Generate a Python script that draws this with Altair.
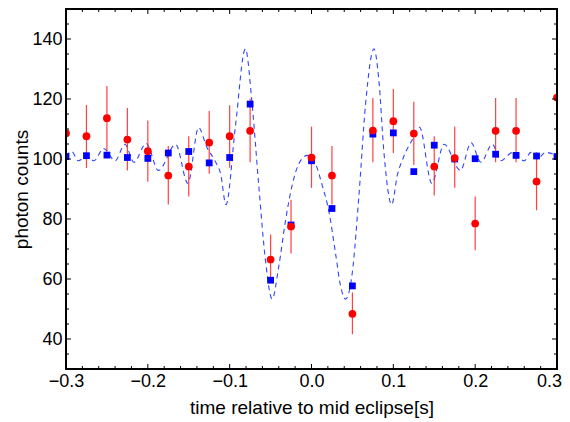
import altair as alt
import pandas as pd

# ---- data ----
t = [-0.3, -0.275, -0.25, -0.225, -0.2, -0.175, -0.15, -0.125, -0.1, -0.075, -0.05, -0.025,
     0.0, 0.025, 0.05, 0.075, 0.1, 0.125, 0.15, 0.175, 0.2, 0.225, 0.25, 0.275, 0.3]
red = [108.6, 107.6, 113.6, 106.5, 102.6, 94.5, 97.5, 105.5, 107.6, 109.4, 66.5, 77.5,
       100.5, 94.5, 48.4, 109.5, 112.6, 108.5, 97.5, 100.3, 78.5, 109.4, 109.4, 92.5, 120.5]
red_lo = [98.6, 97.0, 102.7, 96.2, 92.4, 84.8, 87.5, 95.1, 97.1, 98.9, 58.7, 68.5,
          90.4, 84.8, 41.6, 98.9, 102.0, 98.0, 87.8, 90.4, 69.6, 98.9, 98.9, 82.9, 109.5]
red_hi = [118.6, 118.0, 124.3, 117.0, 112.8, 104.3, 107.6, 116.0, 117.9, 120.1, 74.8, 86.4,
          110.8, 104.3, 55.5, 120.3, 123.3, 119.1, 107.6, 110.8, 87.5, 120.3, 120.3, 102.2, 131.5]
blue = [100.8, 101.1, 101.3, 100.5, 100.2, 102.0, 102.5, 98.7, 100.5, 118.3, 59.6, 78.0,
        99.4, 83.5, 57.7, 108.3, 108.7, 95.8, 104.6, 100.0, 100.1, 101.6, 101.2, 101.0, 100.8]

curve_t = [-0.300, -0.293, -0.285, -0.275, -0.266, -0.254, -0.240, -0.228, -0.217, -0.202,
           -0.187, -0.166, -0.151, -0.138, -0.128, -0.118, -0.111, -0.1045, -0.093, -0.0808,
           -0.0726, -0.0645, -0.0563, -0.0481, -0.040, -0.0318, -0.0236, -0.0155, -0.005,
           0.0049, 0.013, 0.0212, 0.0294, 0.0355, 0.0416, 0.0498, 0.058, 0.0661, 0.0763,
           0.0824, 0.0885, 0.098, 0.1049, 0.113, 0.1233, 0.132, 0.147, 0.162, 0.182, 0.195,
           0.207, 0.221, 0.231, 0.246, 0.260, 0.268, 0.276, 0.286, 0.300]
curve_v = [100.8, 102.5, 99.4, 101.0, 99.4, 103.5, 99.4, 104.9, 98.9, 105.2,
           96.2, 104.9, 91.9, 110.5, 104.0, 99.4, 95.0, 84.8, 110.8, 136.7,
           118.4, 91.3, 66.3, 53.3, 64.2, 79.4, 91.3, 98.4, 101.2,
           98.4, 91.3, 82.6, 68.5, 57.7, 53.3, 62.0, 88.0, 118.4, 136.7,
           126.0, 102.2, 84.8, 94.6, 101.0, 106.5, 110.6, 91.9, 104.9, 96.2, 105.4,
           98.9, 104.9, 99.4, 102.2, 99.4, 102.2, 100.0, 102.2, 101.0]

x_major = [-0.3, -0.2, -0.1, 0.0, 0.1, 0.2, 0.3]
x_minor = [-0.28, -0.26, -0.24, -0.22, -0.18, -0.16, -0.14, -0.12, -0.08, -0.06, -0.04, -0.02,
           0.02, 0.04, 0.06, 0.08, 0.12, 0.14, 0.16, 0.18, 0.22, 0.24, 0.26, 0.28]
y_major = [40, 60, 80, 100, 120, 140]
y_minor = [35, 45, 50, 55, 65, 70, 75, 85, 90, 95, 105, 110, 115, 125, 130, 135, 145]

# ---- layout ----
W, H = 491, 360
FONT = "Liberation Sans"

xscale = alt.Scale(domain=[-0.3, 0.3], nice=False, zero=False)
yscale = alt.Scale(domain=[30, 150], nice=False, zero=False)

xaxis = alt.Axis(values=x_major, format=".1f", ticks=False, domain=False, grid=False,
                 labelFontSize=18, labelFont=FONT, labelColor="black", labelPadding=3,
                 labelFlush=False, labelOverlap=False,
                 labelOffset=alt.condition("datum.value > 0.29", alt.value(-8), alt.value(0)),
                 titleFontSize=19, titleFont=FONT, titleFontWeight="normal",
                 titleColor="black", titlePadding=8)
yaxis = alt.Axis(values=y_major, format="d", ticks=False, domain=False, grid=False,
                 labelFontSize=18, labelFont=FONT, labelColor="black", labelPadding=4,
                 labelFlush=False, labelOverlap=False,
                 titleFontSize=19, titleFont=FONT, titleFontWeight="normal",
                 titleColor="black", titlePadding=0)

XT = "time relative to mid eclipse[s]"
YT = "photon counts"


def X(f="x"):
    return alt.X(f"{f}:Q", scale=xscale, axis=xaxis, title=XT)


def Y(f="y"):
    return alt.Y(f"{f}:Q", scale=yscale, axis=yaxis, title=YT)


pts = pd.DataFrame({"x": t, "y": red, "lo": red_lo, "hi": red_hi, "b": blue})
cdf = pd.DataFrame({"x": curve_t, "y": curve_v})

curve = alt.Chart(cdf).mark_line(
    color="#3344ff", strokeWidth=1.1, strokeDash=[5, 4], interpolate="monotone", clip=True
).encode(x=X(), y=Y())

errs = alt.Chart(pts).mark_rule(color="#ff2020", strokeWidth=1.2, opacity=0.85, clip=True).encode(
    x=X(), y=Y("lo"), y2="hi:Q"
)

squares = alt.Chart(pts).mark_square(color="#0000ff", size=46, opacity=1, clip=True).encode(
    x=X(), y=Y("b")
)

circles = alt.Chart(pts).mark_circle(color="#ff0000", size=60, opacity=1, clip=True).encode(
    x=X(), y=Y()
)

# inward frame ticks
dxM = pd.DataFrame({"x": x_major})
dxm = pd.DataFrame({"x": x_minor})
dyM = pd.DataFrame({"y": y_major})
dym = pd.DataFrame({"y": y_minor})


def xticks(df, L):
    bot = alt.Chart(df).mark_rule(color="black", strokeWidth=1).encode(
        x=X(), y=alt.value(H), y2=alt.value(H - L))
    top = alt.Chart(df).mark_rule(color="black", strokeWidth=1).encode(
        x=X(), y=alt.value(0), y2=alt.value(L))
    return [bot, top]


def yticks(df, L):
    left = alt.Chart(df).mark_rule(color="black", strokeWidth=1).encode(
        y=Y(), x=alt.value(0), x2=alt.value(L))
    right = alt.Chart(df).mark_rule(color="black", strokeWidth=1).encode(
        y=Y(), x=alt.value(W), x2=alt.value(W - L))
    return [left, right]


# black frame
frame_style = dict(color="black", strokeWidth=2, strokeCap="square")
frame = [
    alt.Chart(pts).mark_rule(**frame_style).encode(x=alt.value(0), x2=alt.value(W), y=alt.value(0)),
    alt.Chart(pts).mark_rule(**frame_style).encode(x=alt.value(0), x2=alt.value(W), y=alt.value(H)),
    alt.Chart(pts).mark_rule(**frame_style).encode(y=alt.value(0), y2=alt.value(H), x=alt.value(0)),
    alt.Chart(pts).mark_rule(**frame_style).encode(y=alt.value(0), y2=alt.value(H), x=alt.value(W)),
]

layers = ([curve, errs, squares, circles] + xticks(dxM, 5) + xticks(dxm, 3)
          + yticks(dyM, 5) + yticks(dym, 3) + frame)

chart = alt.layer(*layers).properties(
    width=W, height=H,
    autosize=alt.AutoSizeParams(type="none"),
    padding={"left": 58, "top": 1, "right": 5, "bottom": 53},
    background="white",
).configure_view(strokeWidth=0)

chart.save("out.html", embed_options={"renderer": "svg", "actions": False})
